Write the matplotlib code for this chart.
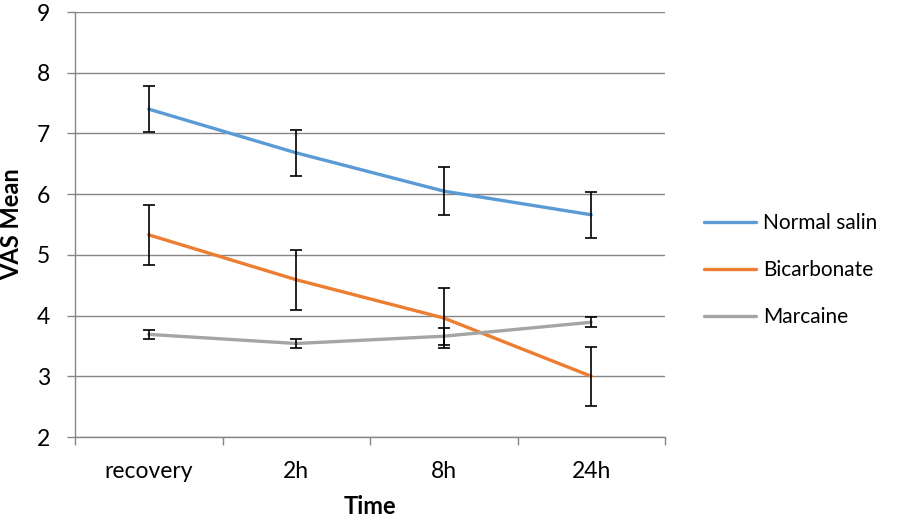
import matplotlib
matplotlib.use("Agg")
import matplotlib.pyplot as plt
import numpy as np

plt.rcParams["font.family"] = ["Lato", "DejaVu Sans"]

times = ["recovery", "2h", "8h", "24h"]
series = ["Normal salin", "Bicarbonate", "Marcaine"]
means = {
    "Normal salin": [7.40, 6.68, 6.05, 5.66],
    "Bicarbonate": [5.33, 4.59, 3.96, 3.00],
    "Marcaine": [3.69, 3.54, 3.66, 3.89],
}
errors = {
    "Normal salin": [0.38, 0.38, 0.39, 0.38],
    "Bicarbonate": [0.49, 0.49, 0.49, 0.49],
    "Marcaine": [0.07, 0.07, 0.14, 0.08],
}
colors = {"Normal salin": "#5B9BD5", "Bicarbonate": "#ED7D31", "Marcaine": "#A5A5A5"}

fig = plt.figure(figsize=(8.98, 5.2), dpi=100)
ax = fig.add_axes([75 / 898, 1 - 437 / 520, (665 - 75) / 898, (437 - 12) / 520])

x = np.arange(len(times))
for s in series:
    ax.plot(x, means[s], color=colors[s], lw=2.4, label=s, zorder=3, solid_capstyle="round")
    ax.errorbar(x, means[s], yerr=errors[s], fmt="none", ecolor="black",
                elinewidth=1.2, capsize=4.5, capthick=1.2, zorder=4)

ax.set_xlim(-0.5, 3.5)
ax.set_ylim(2, 9)
ax.set_yticks(range(2, 10))
ax.set_xticks(x)
ax.set_xticklabels(times)
ax.set_xticks(np.arange(-0.5, 4.0, 1.0), minor=True)
ax.tick_params(axis="x", which="major", length=0, pad=17, labelsize=16.5)
ax.tick_params(axis="x", which="minor", length=6, color="#868686", width=1)
ax.tick_params(axis="y", length=6, color="#868686", width=1, labelsize=16.5, pad=12)
ax.grid(axis="y", color="#868686", lw=1)
ax.set_axisbelow(True)
for side in ["top", "right"]:
    ax.spines[side].set_visible(False)
for side in ["left", "bottom"]:
    ax.spines[side].set_color("#868686")
    ax.spines[side].set_linewidth(1)

ax.set_xlabel("Time", fontsize=17, fontweight="bold", labelpad=10)
ax.set_ylabel("VAS Mean", fontsize=17, fontweight="bold", labelpad=10)

ax.legend(loc="center left", bbox_to_anchor=(1.035, 0.393), frameon=False,
          fontsize=15, handlelength=2.5, handletextpad=0.3, labelspacing=1.3)

fig.savefig("out.png", dpi=100)
